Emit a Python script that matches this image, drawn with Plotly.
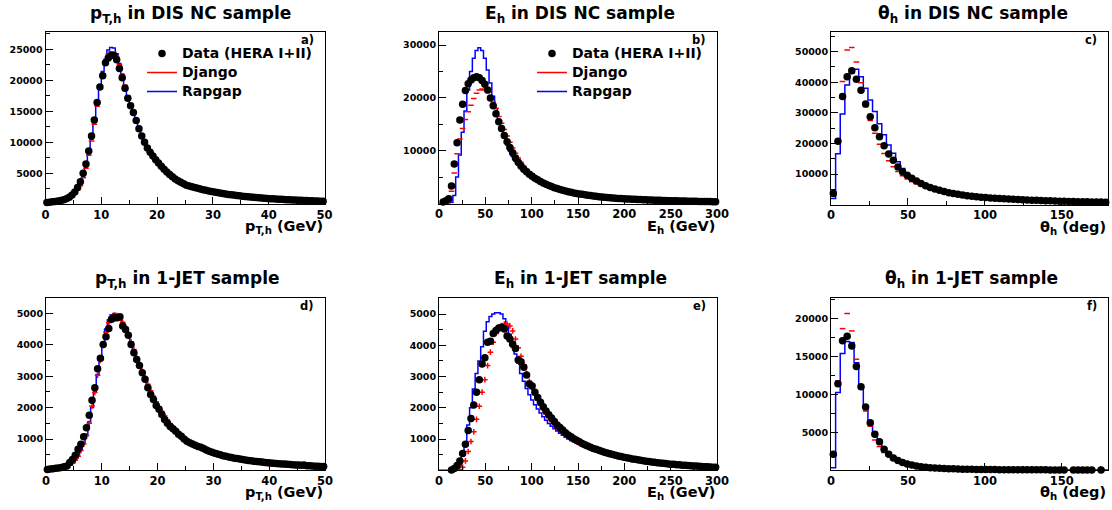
import numpy as np
import plotly.graph_objects as go

# ---------------- bins ----------------
PT_EDGES = np.linspace(0, 50, 101)
E_EDGES = np.linspace(0, 300, 101)
TH_EDGES = np.linspace(0, 180, 61)

# ---------------- a) pT,h in DIS NC ----------------
data_pt_nc = [300, 350, 400, 450, 520, 620, 750, 900, 1150, 1500,
              2000, 2700, 3650, 5000, 6500, 8600, 11000, 13600, 16400, 18900,
              20750, 22850, 23600, 24000, 24000, 23300, 21900, 20400, 18700, 17100,
              15900, 14800, 13500, 12200, 11000, 10000, 9100, 8400, 7800, 7200,
              6650, 6150, 5650, 5200, 4800, 4450, 4100, 3800, 3550, 3300,
              3080, 2950, 2820, 2700, 2580, 2470, 2360, 2260, 2160, 2060,
              1970, 1890, 1810, 1740, 1670, 1600, 1540, 1480, 1420, 1365,
              1315, 1265, 1220, 1175, 1130, 1090, 1050, 1010, 975, 940,
              910, 880, 850, 820, 795, 770, 745, 720, 700, 680,
              660, 640, 620, 600, 580, 560, 540, 520, 500, 480]
rapgap_pt_nc = [250, 300, 350, 400, 470, 560, 680, 830, 1050, 1350,
                1800, 2400, 3200, 4500, 6000, 8100, 10500, 13200, 16200, 19000,
                21400, 23400, 24900, 25300, 25200, 24300, 22700, 21000, 19200, 17500,
                16100, 14900, 13600, 12300, 11100, 10100, 9200, 8450, 7800, 7200,
                6650, 6150, 5650, 5200, 4800, 4450, 4100, 3800, 3550, 3300,
                3080, 2950, 2820, 2700, 2580, 2470, 2360, 2260, 2160, 2060,
                1970, 1890, 1810, 1740, 1670, 1600, 1540, 1480, 1420, 1365,
                1315, 1265, 1220, 1175, 1130, 1090, 1050, 1010, 975, 940,
                910, 880, 850, 820, 795, 770, 745, 720, 700, 680,
                660, 640, 620, 600, 580, 560, 540, 520, 500, 480]
django_pt_nc = [250, 300, 350, 400, 470, 560, 680, 830, 1050, 1350,
                1750, 2300, 3000, 4300, 5800, 7900, 10200, 12900, 15800, 18600,
                21000, 22900, 24200, 24600, 24500, 23800, 22500, 20900, 19200, 17500,
                16100, 14900, 13600, 12300, 11100, 10100, 9200, 8450, 7800, 7200,
                6650, 6150, 5650, 5200, 4800, 4450, 4100, 3800, 3550, 3300,
                3080, 2950, 2820, 2700, 2580, 2470, 2360, 2260, 2160, 2060,
                1970, 1890, 1810, 1740, 1670, 1600, 1540, 1480, 1420, 1365,
                1315, 1265, 1220, 1175, 1130, 1090, 1050, 1010, 975, 940,
                910, 880, 850, 820, 795, 770, 745, 720, 700, 680,
                660, 640, 620, 600, 580, 560, 540, 520, 500, 480]

# ---------------- b) E_h in DIS NC ----------------
data_e_nc = [None, 300, 500, 900, 3300, 7500, 11500, 15800, 18800, 21400,
             22700, 23400, 23800, 24000, 23800, 23300, 22600, 21500, 20000, 18500,
             17000, 15500, 14200, 12900, 11700, 10600, 9600, 8600, 7800, 7100,
             6500, 6000, 5550, 5150, 4800, 4480, 4180, 3900, 3650, 3420,
             3200, 3000, 2820, 2660, 2510, 2370, 2240, 2120, 2010, 1910,
             1820, 1735, 1650, 1570, 1495, 1425, 1360, 1300, 1245, 1190,
             1140, 1095, 1050, 1010, 970, 935, 900, 870, 840, 810,
             785, 760, 735, 712, 690, 668, 648, 628, 610, 592,
             575, 558, 542, 527, 512, 498, 484, 471, 458, 446,
             434, 423, 412, 401, 391, 381, 372, 363, 354, 345]
rapgap_e_nc = [0, 0, 0, 0, 200, 1500, 5000, 9200, 13500, 17500,
               21500, 25000, 27500, 29000, 29500, 29000, 27500, 25300, 22800, 20300,
               18000, 15900, 14100, 12500, 11100, 9900, 8900, 8000, 7250, 6600,
               6050, 5600, 5200, 4850, 4530, 4230, 3950, 3700, 3460, 3240,
               3040, 2850, 2680, 2520, 2380, 2250, 2130, 2020, 1920, 1830,
               1740, 1660, 1580, 1510, 1440, 1375, 1315, 1260, 1205, 1155,
               1110, 1065, 1025, 985, 950, 915, 882, 852, 822, 795,
               770, 745, 722, 700, 678, 658, 638, 620, 602, 585,
               568, 552, 537, 522, 508, 494, 481, 468, 456, 444,
               432, 421, 410, 400, 390, 380, 371, 362, 353, 345]
django_e_nc = [None, 50, 150, 400, 2300, 5800, 9400, 12200, 14200, 15900,
               17400, 18600, 19900, 20900, 21500, 21700, 21500, 21000, 20200, 19200,
               18000, 16500, 15200, 14000, 12800, 11600, 10500, 9500, 8600, 7800,
               7100, 6500, 5950, 5500, 5050, 4650, 4300, 4000, 3720, 3460,
               3230, 3020, 2830, 2650, 2490, 2340, 2200, 2080, 1970, 1870,
               1700, 1620, 1545, 1475, 1410, 1350, 1290, 1235, 1185, 1135,
               1090, 1048, 1008, 970, 935, 900, 868, 838, 810, 783,
               757, 733, 710, 688, 667, 647, 628, 610, 592, 575,
               559, 543, 528, 514, 500, 487, 474, 462, 450, 439,
               428, 417, 407, 397, 388, 379, 370, 362, 354, 346]

# ---------------- c) theta_h in DIS NC ----------------
data_th_nc = [3600, 20700, 35300, 41800, 43700, 41000, 37400, 32900, 28700, 25100,
              22200, 19200, 16500, 14500, 12300, 10700, 9600, 8600, 7700, 6900,
              6200, 5600, 5100, 4650, 4250, 3900, 3600, 3350, 3120, 2920,
              2740, 2580, 2440, 2310, 2190, 2080, 1980, 1890, 1800, 1720,
              1650, 1580, 1510, 1450, 1390, 1330, 1280, 1230, 1180, 1130,
              1090, 1050, 1010, 970, 930, 900, 870, 840, 810, 780]
rapgap_th_nc = [2000, 16600, 29600, 39100, 43000, 44200, 41800, 38000, 34200, 30400,
                26400, 22800, 19500, 16800, 14000, 11800, 10200, 8900, 7800, 6900,
                6150, 5500, 4950, 4480, 4070, 3720, 3410, 3140, 2900, 2690,
                2500, 2340, 2200, 2070, 1960, 1860, 1770, 1690, 1610, 1540,
                1470, 1410, 1350, 1290, 1240, 1190, 1140, 1090, 1050, 1010,
                970, 930, 900, 870, 840, 810, 780, 750, 720, 700]
django_th_nc = [3000, 21000, 40200, 50500, 51300, 46600, 39800, 32000, 27500, 23300,
                19700, 16700, 14300, 12400, 10800, 9400, 8400, 7500, 6800, 6150,
                5550, 5050, 4600, 4200, 3850, 3550, 3280, 3040, 2830, 2640,
                2470, 2320, 2190, 2070, 1960, 1860, 1770, 1690, 1610, 1540,
                1470, 1410, 1350, 1290, 1240, 1190, 1140, 1090, 1050, 1010,
                970, 935, 900, 870, 840, 810, 780, 750, 720, 700]

# ---------------- d) pT,h in 1-JET ----------------
data_pt_jet = [30, 45, 55, 65, 80, 95, 115, 140, 250, 350,
               480, 670, 830, 1070, 1360, 1760, 2230, 2630, 3240, 3570,
               4010, 4260, 4520, 4810, 4860, 4860, 4890, 4600, 4490, 4300,
               4010, 3750, 3530, 3340, 3110, 2900, 2630, 2420, 2260, 2070,
               1950, 1780, 1620, 1500, 1400, 1330, 1250, 1150, 1090, 1000,
               930, 880, 840, 800, 760, 740, 700, 650, 610, 575,
               545, 520, 495, 470, 450, 430, 410, 390, 375, 360,
               345, 330, 318, 306, 295, 284, 274, 264, 255, 246,
               238, 230, 222, 214, 207, 200, 193, 186, 180, 174,
               168, 162, 170, 151, 146, 141, 136, 131, 126, 121]
rapgap_pt_jet = [25, 40, 50, 60, 75, 90, 110, 135, 170, 240,
                 340, 470, 660, 880, 1150, 1550, 2000, 2500, 3050, 3600,
                 4100, 4500, 4800, 4960, 5000, 4950, 4850, 4700, 4520, 4320,
                 4080, 3830, 3590, 3370, 3150, 2940, 2730, 2530, 2350, 2180,
                 2020, 1870, 1730, 1600, 1480, 1370, 1270, 1180, 1095, 1015,
                 945, 880, 825, 775, 730, 690, 650, 615, 580, 550,
                 520, 495, 470, 448, 428, 408, 390, 373, 357, 342,
                 328, 315, 302, 290, 279, 268, 258, 248, 239, 230,
                 222, 214, 206, 199, 192, 185, 179, 173, 167, 161,
                 156, 151, 146, 141, 136, 132, 128, 124, 120, 116]
django_pt_jet = [25, 40, 50, 60, 75, 90, 110, 135, 170, 230,
                 320, 450, 630, 840, 1100, 1500, 2050, 2480, 3030, 3500,
                 4000, 4400, 4700, 4880, 4950, 4930, 4850, 4720, 4550, 4350,
                 4100, 3850, 3600, 3380, 3160, 2950, 2740, 2540, 2360, 2190,
                 2030, 1880, 1740, 1610, 1490, 1380, 1280, 1185, 1100, 1020,
                 950, 885, 830, 780, 735, 695, 655, 620, 585, 555,
                 520, 495, 470, 448, 428, 408, 390, 373, 357, 342,
                 328, 315, 302, 290, 279, 268, 258, 248, 239, 230,
                 222, 214, 206, 199, 192, 185, 179, 173, 167, 161,
                 156, 151, 146, 141, 136, 132, 128, 124, 120, 116]

# ---------------- e) E_h in 1-JET ----------------
data_e_jet = [None, None, None, None, 10, 60, 150, 300, 540, 830,
              1270, 1660, 2090, 2500, 2900, 3400, 3600, 4100, 4130, 4380,
              4470, 4550, 4580, 4520, 4300, 4200, 4030, 3900, 3530, 3470,
              3300, 3050, 2760, 2700, 2500, 2330, 2180, 2030, 1900, 1780,
              1670, 1560, 1450, 1370, 1290, 1200, 1130, 1070, 1010, 960,
              910, 860, 820, 780, 740, 700, 670, 640, 610, 580,
              555, 530, 505, 480, 460, 440, 420, 400, 385, 365,
              350, 335, 320, 305, 290, 280, 265, 255, 245, 235,
              225, 215, 205, 195, 190, 180, 175, 165, 160, 150,
              145, 140, 135, 130, 120, 115, 110, 105, 100, 95]
rapgap_e_jet = [0, 0, 0, 0, 0, 0, 0, 150, 450, 880,
                1450, 2000, 2600, 3100, 3500, 3950, 4450, 4750, 4920, 5000,
                5040, 5040, 5000, 4850, 4620, 4350, 4020, 3720, 3430, 3100,
                2850, 2620, 2420, 2250, 2100, 1960, 1830, 1710, 1600, 1500,
                1410, 1330, 1255, 1185, 1120, 1060, 1005, 955, 910, 868,
                850, 810, 775, 740, 705, 675, 645, 615, 588, 562,
                537, 513, 490, 468, 447, 427, 408, 390, 373, 357,
                341, 326, 312, 298, 285, 273, 261, 250, 239, 229,
                219, 210, 201, 192, 184, 176, 169, 162, 155, 148,
                142, 136, 130, 125, 120, 115, 110, 105, 101, 97]
django_e_jet = [None, None, None, None, None, None, None, 20, 100, 300,
                600, 920, 1230, 1630, 2050, 2500, 2900, 3350, 3780, 4100,
                4380, 4560, 4630, 4680, 4680, 4620, 4460, 4200, 3920, 3650,
                3380, 3100, 2850, 2620, 2420, 2240, 2080, 1940, 1800, 1680,
                1560, 1460, 1360, 1280, 1200, 1130, 1070, 1010, 960, 910,
                865, 820, 780, 742, 706, 672, 640, 610, 581, 554,
                528, 504, 481, 459, 438, 418, 399, 381, 364, 348,
                333, 318, 304, 291, 278, 266, 255, 244, 234, 224,
                214, 205, 196, 188, 180, 172, 165, 158, 151, 145,
                139, 133, 128, 123, 118, 113, 108, 104, 100, 96]

# ---------------- f) theta_h in 1-JET ----------------
data_th_jet = [2070, 11400, 17100, 17700, 16400, 13700, 11000, 8340, 6260, 4720,
               3750, 2730, 2070, 1600, 1250, 1000, 800, 650, 530, 440,
               370, 310, 265, 225, 195, 170, 150, 130, 115, 100,
               90, 80, 72, 65, 58, 52, 47, 43, 39, 35,
               32, 29, 27, 24, 22, 20, 18, 16, 15, 13,
               12, None, 10, 9, 8, 7, 6, None, 6, None]
rapgap_th_jet = [300, 10240, 15400, 17000, 16860, 14200, 11000, 8300, 6500, 5000,
                 3900, 2900, 2150, 1650, 1280, 1000, 790, 635, 515, 425,
                 350, 295, 250, 215, 185, 160, 140, 122, 107, 95,
                 84, 75, 67, 60, 54, 49, 44, 40, 36, 33,
                 30, 27, 25, 22, 20, 18, 17, 15, 14, 13,
                 12, 11, 10, 9, 8, 7, 6, 6, 5, 5]
django_th_jet = [2000, 11800, 18700, 20700, 18400, 14650, 11000, 7800, 5800, 3970,
                 3100, 2300, 1850, 1400, 1100, 880, 720, 590, 480, 400,
                 335, 280, 240, 205, 178, 155, 135, 118, 104, 92,
                 82, 73, 65, 58, 52, 47, 42, 38, 34, 31,
                 28, 25, 23, 21, 19, 17, 16, 14, 13, 12,
                 11, 10, 9, 8, 7, 6, 6, 5, 5, 4]

# ---------------- layout helpers ----------------
W, H = 1112, 510
FONT = "DejaVu Sans"


def px_x(v):
    return v / W


def px_y(v):
    return 1 - v / H


panels = [
    dict(edges=PT_EDGES, data=data_pt_nc, django=django_pt_nc, rapgap=rapgap_pt_nc,
         ymax=27790, xmaj=10, xmin=5, ymaj=5000, ymin=2500,
         title="p<sub>T,h</sub> in DIS NC sample", xtitle="p<sub>T,h</sub> (GeV)",
         label="a)", box=(45.5, 324.5, 32, 204.3), tcx=190, legend="legend", dj="line-ew"),
    dict(edges=E_EDGES, data=data_e_nc, django=django_e_nc, rapgap=rapgap_e_nc,
         ymax=32480, xmaj=50, xmin=25, ymaj=10000, ymin=5000,
         title="E<sub>h</sub> in DIS NC sample", xtitle="E<sub>h</sub> (GeV)",
         label="b)", box=(439, 717, 32, 203.5), tcx=580, legend="legend2", dj="line-ew"),
    dict(edges=TH_EDGES, data=data_th_nc, django=django_th_nc, rapgap=rapgap_th_nc,
         ymax=56400, xmaj=50, xmin=25, ymaj=10000, ymin=5000,
         title="θ<sub>h</sub> in DIS NC sample", xtitle="θ<sub>h</sub> (deg)",
         label="c)", box=(831, 1108, 32, 204.6), tcx=973, legend=None, dj="line-ew"),
    dict(edges=PT_EDGES, data=data_pt_jet, django=django_pt_jet, rapgap=rapgap_pt_jet,
         ymax=5490, xmaj=10, xmin=5, ymaj=1000, ymin=500,
         title="p<sub>T,h</sub> in 1-JET sample", xtitle="p<sub>T,h</sub> (GeV)",
         label="d)", box=(46, 325, 298, 470.4), tcx=187, legend=None, dj="cross-thin"),
    dict(edges=E_EDGES, data=data_e_jet, django=django_e_jet, rapgap=rapgap_e_jet,
         ymax=5512, xmaj=50, xmin=25, ymaj=1000, ymin=500,
         title="E<sub>h</sub> in 1-JET sample", xtitle="E<sub>h</sub> (GeV)",
         label="e)", box=(439, 717, 298, 470.3), tcx=580, legend=None, dj="cross-thin"),
    dict(edges=TH_EDGES, data=data_th_jet, django=django_th_jet, rapgap=rapgap_th_jet,
         ymax=22750, xmaj=50, xmin=25, ymaj=5000, ymin=2500,
         title="θ<sub>h</sub> in 1-JET sample", xtitle="θ<sub>h</sub> (deg)",
         label="f)", box=(831, 1108, 298, 470), tcx=971, legend=None, dj="line-ew"),
]

LEG_SIZE = 14

fig = go.Figure()
annotations = []
layout_axes = {}

for i, p in enumerate(panels):
    n = i + 1
    xa = "x" if n == 1 else f"x{n}"
    ya = "y" if n == 1 else f"y{n}"
    edges = p["edges"]
    centers = 0.5 * (edges[:-1] + edges[1:])
    xlo, xhi = float(edges[0]), float(edges[-1])
    leg = p["legend"]

    # Rapgap: step histogram
    ry = list(p["rapgap"]) + [p["rapgap"][-1]]
    fig.add_trace(go.Scatter(
        x=edges, y=ry, mode="lines", line=dict(color="#0000ff", width=1.5, shape="hv"),
        name=f'<span style="font-size:{LEG_SIZE}px">Rapgap</span>',
        showlegend=leg is not None, legend=leg if leg else "legend", legendrank=3,
        xaxis=xa, yaxis=ya, hoverinfo="skip"))
    # Django: red error-bar-like dashes
    fig.add_trace(go.Scatter(
        x=centers, y=p["django"], mode="markers",
        marker=dict(symbol=p["dj"], size=4, color="red",
                    line=dict(color="red", width=1.5)),
        showlegend=False, xaxis=xa, yaxis=ya, hoverinfo="skip"))
    if leg:
        fig.add_trace(go.Scatter(
            x=[None], y=[None], mode="lines", line=dict(color="red", width=1.5),
            name=f'<span style="font-size:{LEG_SIZE}px">Django</span>',
            showlegend=True, legend=leg, legendrank=2, xaxis=xa, yaxis=ya))
    # Data
    fig.add_trace(go.Scatter(
        x=centers, y=p["data"], mode="markers",
        marker=dict(symbol="circle", size=7.5, color="black"),
        cliponaxis=False,
        name=f'<span style="font-size:{LEG_SIZE}px">Data (HERA I+II)</span>',
        showlegend=leg is not None, legend=leg if leg else "legend", legendrank=1,
        xaxis=xa, yaxis=ya, hoverinfo="skip"))

    x0, x1, y0, y1 = p["box"]
    xt = list(np.arange(xlo, xhi + 1e-9, p["xmaj"]))
    xm = list(np.arange(xlo, xhi + 1e-9, p["xmin"]))
    yt = list(np.arange(p["ymaj"], p["ymax"], p["ymaj"]))
    ym = list(np.arange(p["ymin"], p["ymax"], p["ymin"]))
    common = dict(showline=True, linecolor="black", linewidth=1, mirror=True,
                  ticks="inside", tickcolor="black", tickwidth=1,
                  showgrid=False, zeroline=False, fixedrange=True, automargin=False)
    layout_axes["xaxis" if n == 1 else f"xaxis{n}"] = dict(
        common, domain=[px_x(x0), px_x(x1)], range=[xlo, xhi], anchor=ya,
        tickmode="array", tickvals=xt, ticktext=[f"{v:g}" for v in xt], ticklen=7,
        tickfont=dict(family=FONT, size=11.5, color="black", weight="bold"),
        minor=dict(ticks="inside", tickmode="array", tickvals=xm, ticklen=4,
                   tickcolor="black", showgrid=False))
    layout_axes["yaxis" if n == 1 else f"yaxis{n}"] = dict(
        common, domain=[px_y(y1), px_y(y0)], range=[0, p["ymax"]], anchor=xa,
        tickmode="array", tickvals=yt, ticktext=[f"{v:g}" for v in yt], ticklen=7,
        tickfont=dict(family=FONT, size=9.5, color="black", weight="bold"),
        minor=dict(ticks="inside", tickmode="array", tickvals=ym, ticklen=4,
                   tickcolor="black", showgrid=False))

    top_row = i < 3
    annotations.append(dict(
        text=f"<b>{p['title']}</b>", x=px_x(p["tcx"]),
        y=px_y(14 if top_row else 279), xref="paper", yref="paper",
        xanchor="center", yanchor="middle", showarrow=False,
        font=dict(family=FONT, size=17, color="black")))
    annotations.append(dict(
        text=f"<b>{p['xtitle']}</b>", x=px_x(x1), y=px_y(y1 + 23),
        xref="paper", yref="paper", xanchor="right", yanchor="middle",
        showarrow=False, font=dict(family=FONT, size=14.5, color="black")))
    annotations.append(dict(
        text=f"<b>{p['label']}</b>", x=px_x(x1 - 9), y=px_y(y0 + 8),
        xref="paper", yref="paper", xanchor="right", yanchor="middle",
        showarrow=False, font=dict(family=FONT, size=11.5, color="black")))

leg_common = dict(bgcolor="rgba(0,0,0,0)", borderwidth=0, xanchor="left", yanchor="top",
                  font=dict(family=FONT, size=11, color="black", weight="bold"),
                  traceorder="normal", itemclick=False, itemdoubleclick=False)

fig.update_layout(
    width=W, height=H, margin=dict(l=0, r=0, t=0, b=0, autoexpand=False),
    paper_bgcolor="white", plot_bgcolor="white",
    showlegend=True,
    legend=dict(leg_common, x=px_x(142), y=px_y(39)),
    legend2=dict(leg_common, x=px_x(532), y=px_y(39)),
    annotations=annotations,
    **layout_axes,
)

fig.write_html(
    "out.html",
    config={"displayModeBar": False, "staticPlot": True},
    post_script="document.body.style.margin='0px';document.body.style.padding='0px';",
)
